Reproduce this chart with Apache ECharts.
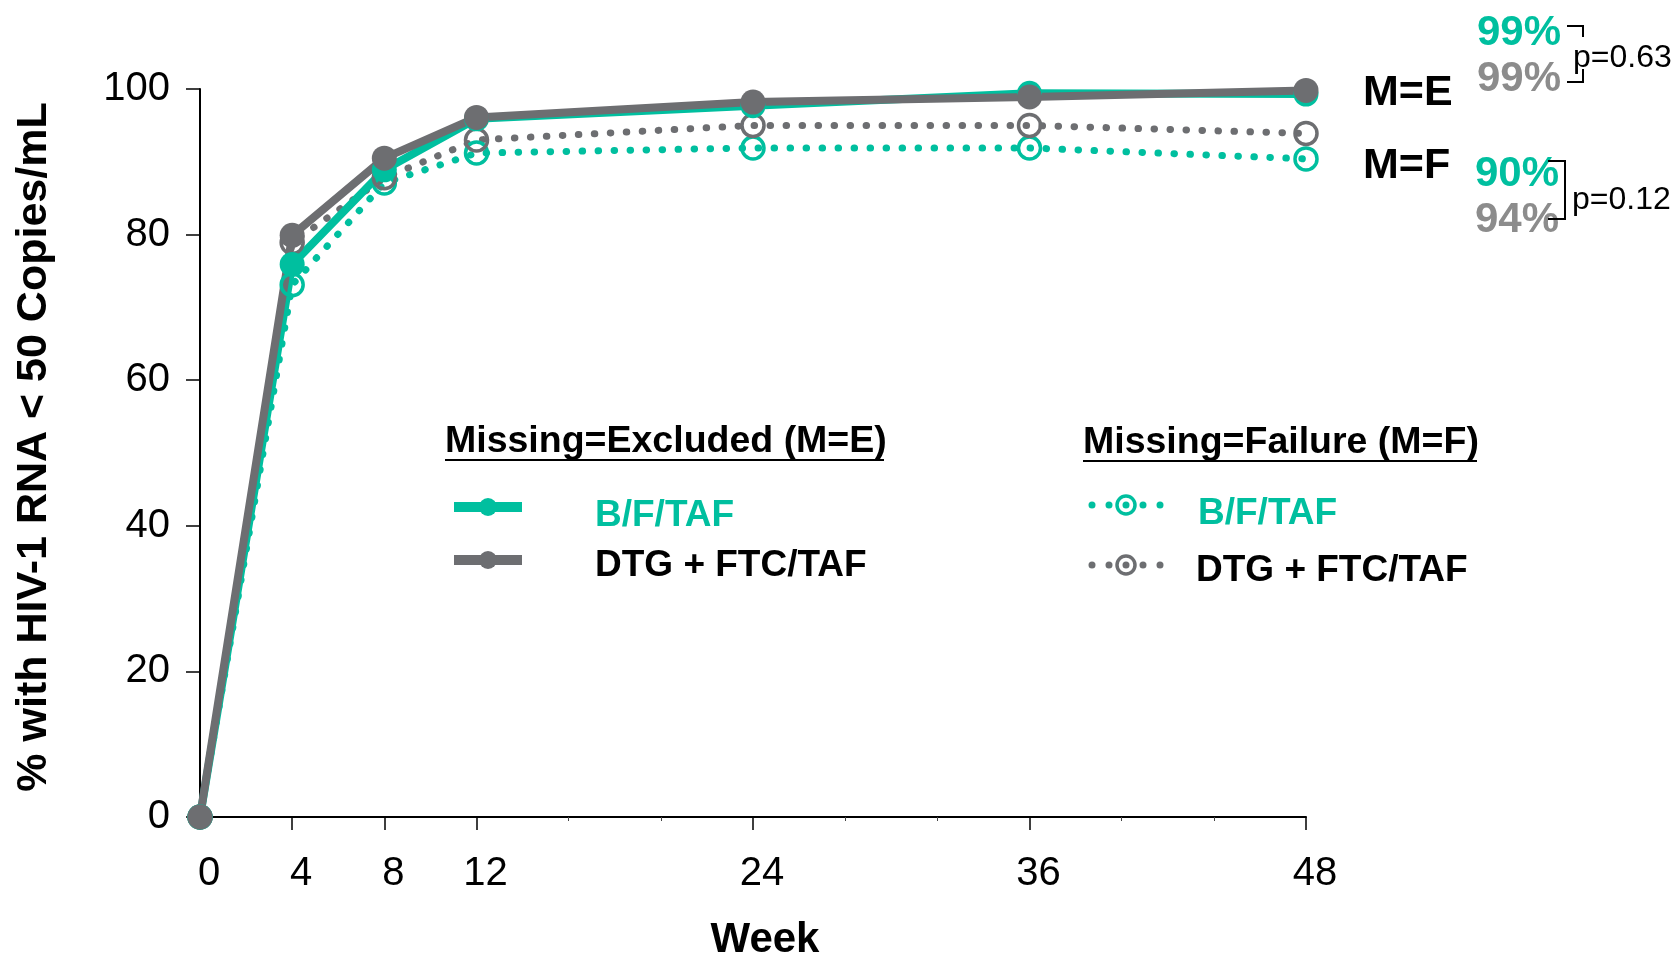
<!DOCTYPE html>
<html>
<head>
<meta charset="utf-8">
<script src="https://cdn.jsdelivr.net/npm/echarts@6/dist/echarts.min.js"></script>
<style>
html,body{margin:0;padding:0;background:#fff;}
#chart{width:1675px;height:955px;}
</style>
</head>
<body>
<div id="chart"></div>
<script>
// ---- data ----
const weeks = [0, 4, 8, 12, 24, 36, 48];
const xTickLabels = [0, 4, 8, 12, 24, 36, 48];
const xMinorTicks = [16, 20, 28, 32, 40, 44];
const bftafME = [0, 75.9, 88.9, 95.9, 97.7, 99.4, 99.3];
const dtgME   = [0, 79.9, 90.5, 96.1, 98.2, 98.9, 99.8];
const bftafMF = [0, 73.1, 87.1, 91.2, 91.9, 91.9, 90.4];
const dtgMF   = [0, 78.9, 87.8, 93.0, 95.0, 95.0, 93.9];
const seriesNames = ['B/F/TAF', 'DTG + FTC/TAF'];
const finalME = ['99%', '99%'];
const finalMF = ['90%', '94%'];
const pValues = ['p=0.63', 'p=0.12'];

const TEAL = '#00BF9F';
const GRAY = '#6D6E71';
const GRAYTXT = '#8C8C8C';
const FONT = '"Liberation Sans", Arial, Helvetica, sans-serif';

function pairs(ys){ return weeks.map((w,i)=>[w, ys[i]]); }

function solidSeries(name, ys, color){
  return {
    name, type:'line', data: pairs(ys), clip:false,
    symbol:'circle', symbolSize:25,
    itemStyle:{color:color},
    lineStyle:{color:color, width:8},
    emphasis:{disabled:true}, animation:false
  };
}
function dottedSeries(name, ys, color){
  return {
    name, type:'line', data: pairs(ys), clip:false,
    symbol:'circle', symbolSize:22,
    itemStyle:{color:'rgba(255,255,255,0)', borderColor:color, borderWidth:3.5},
    lineStyle:{color:color, width:7, type:[0.5, 15.5], cap:'round'},
    emphasis:{disabled:true}, animation:false
  };
}

const chart = echarts.init(document.getElementById('chart'), null, {renderer:'canvas'});

function txt(text, x, y, size, color, bold, align){
  return {type:'text', silent:true, z:100, style:{
    text, x, y, fill:color, align: align||'left', verticalAlign:'middle',
    font: (bold?'bold ':'') + size + 'px ' + FONT
  }};
}
function ln(x1,y1,x2,y2,color,w){
  return {type:'line', silent:true, z:100, shape:{x1,y1,x2,y2}, style:{stroke:color, lineWidth:w}};
}
function circ(cx,cy,r,fill,stroke,w){
  return {type:'circle', silent:true, z:101, shape:{cx,cy,r}, style:{fill:fill, stroke:stroke||null, lineWidth:w||0}};
}
function dottedSym(cx, cy, color){
  return [
    circ(cx-34,cy,3.5,color), circ(cx-17,cy,3.5,color),
    circ(cx+17,cy,3.5,color), circ(cx+34,cy,3.5,color),
    circ(cx,cy,9,'rgba(0,0,0,0)',color,3.5), circ(cx,cy,3.5,color)
  ];
}

const graphics = [
  // axis titles
  {type:'text', silent:true, rotation:Math.PI/2, x:34, y:447, style:{
    text:'% with HIV-1 RNA < 50 Copies/mL', fill:'#000', align:'center', verticalAlign:'middle',
    font:'bold 43px ' + FONT}},
  txt('Week', 765, 940, 42, '#000', true, 'center'),
  // left legend
  txt('Missing=Excluded (M=E)', 445, 442, 37.5, '#000', true),
  ln(445, 460, 884, 460, '#000', 2),
  ln(454, 507, 522, 507, TEAL, 10), circ(488, 507, 9, TEAL),
  txt(seriesNames[0], 595, 516, 37, TEAL, true),
  ln(454, 560, 522, 560, GRAY, 10), circ(488, 560, 9, GRAY),
  txt(seriesNames[1], 595, 566, 37, '#000', true),
  // right legend
  txt('Missing=Failure (M=F)', 1083, 443, 37.5, '#000', true),
  ln(1083, 461, 1477, 461, '#000', 2),
  ...dottedSym(1126, 505, TEAL),
  txt(seriesNames[0], 1198, 514, 37, TEAL, true),
  ...dottedSym(1126, 565, GRAY),
  txt(seriesNames[1], 1196, 571, 37, '#000', true),
  // right annotations
  txt('M=E', 1363, 93, 43, '#000', true),
  txt('M=F', 1363, 166, 43, '#000', true),
  txt(finalME[0], 1477, 33, 42, TEAL, true),
  txt(finalME[1], 1477, 79, 42, GRAYTXT, true),
  ln(1567, 26, 1584, 26, '#000', 2), ln(1583, 25, 1583, 37, '#000', 2),
  ln(1583, 69, 1583, 83, '#000', 2), ln(1567, 82, 1584, 82, '#000', 2),
  txt(pValues[0], 1573, 58, 32, '#000', false),
  txt(finalMF[0], 1475, 174, 42, TEAL, true),
  txt(finalMF[1], 1475, 220, 42, GRAYTXT, true),
  ln(1548, 161, 1566, 161, '#000', 2), ln(1565, 160, 1565, 220, '#000', 2),
  ln(1548, 219, 1566, 219, '#000', 2),
  txt(pValues[1], 1572, 200, 32, '#000', false)
];

const option = {
  backgroundColor:'#fff',
  animation:false,
  textStyle:{fontFamily:FONT},
  grid:{left:200, right:369, top:89, bottom:138, containLabel:false, outerBoundsMode:'none'},
  xAxis:[{
    type:'value', min:0, max:48, interval:4,
    axisLine:{show:true, onZero:false, lineStyle:{color:'#000', width:2}},
    axisTick:{show:true, length:13, customValues:xTickLabels, lineStyle:{color:'#000', width:1.5}},
    axisLabel:{show:true, customValues:xTickLabels, fontSize:40, color:'#000', margin:37,
      padding:[0,0,0,18], fontFamily:FONT},
    splitLine:{show:false}
  },{
    type:'value', min:0, max:48, interval:4, position:'bottom',
    axisLine:{show:false},
    axisTick:{show:true, length:4, customValues:xMinorTicks, lineStyle:{color:'#444', width:1}},
    axisLabel:{show:false},
    splitLine:{show:false}
  }],
  yAxis:{
    type:'value', min:0, max:100, interval:20,
    axisLine:{show:true, lineStyle:{color:'#000', width:2}},
    axisTick:{show:true, length:14, lineStyle:{color:'#000', width:1.5}},
    axisLabel:{fontSize:40, color:'#000', margin:30, fontFamily:FONT},
    splitLine:{show:false}
  },
  series:[
    dottedSeries('B/F/TAF M=F', bftafMF, TEAL),
    dottedSeries('DTG M=F', dtgMF, GRAY),
    solidSeries('B/F/TAF M=E', bftafME, TEAL),
    solidSeries('DTG M=E', dtgME, GRAY)
  ],
  graphic: graphics
};
chart.setOption(option);
</script>
</body>
</html>
